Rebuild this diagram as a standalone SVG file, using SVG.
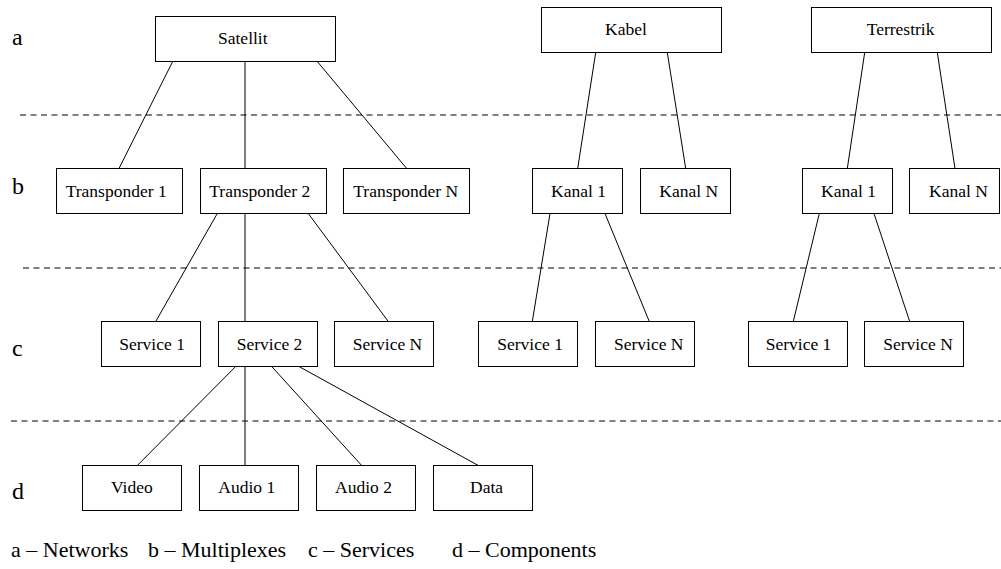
<svg xmlns="http://www.w3.org/2000/svg" width="1001" height="569" viewBox="0 0 1001 569">
  <style>
    .box { fill: #fff; stroke: #000; stroke-width: 1; }
    .lbl { font-family: "Liberation Serif", "Times New Roman", serif; font-size: 17.5px; fill: #000; }
    .row { font-family: "Liberation Serif", "Times New Roman", serif; font-size: 24px; fill: #000; }
    .key { font-family: "Liberation Serif", "Times New Roman", serif; font-size: 22px; fill: #000; }
    .sep { stroke: #000; stroke-width: 1; stroke-dasharray: 6 4.5; fill: none; }
    .edge { stroke: #000; stroke-width: 1; fill: none; }
  </style>

  <!-- layer separators -->
  <g id="separators">
    <line class="sep" x1="20" y1="115" x2="1001" y2="115"/>
    <line class="sep" x1="23" y1="268" x2="1001" y2="268"/>
    <line class="sep" x1="11" y1="421" x2="1001" y2="421"/>
  </g>

  <!-- connectors -->
  <g id="connectors">
    <line class="edge" x1="172.7" y1="61.5" x2="119" y2="168.5"/>
    <line class="edge" x1="245" y1="61.5" x2="245" y2="168.5"/>
    <line class="edge" x1="317.3" y1="61.5" x2="406.7" y2="168.5"/>
    <line class="edge" x1="595.7" y1="52.5" x2="577.7" y2="168.5"/>
    <line class="edge" x1="667.3" y1="52.5" x2="685.7" y2="168.5"/>
    <line class="edge" x1="864.7" y1="52.5" x2="847.3" y2="168.5"/>
    <line class="edge" x1="937.3" y1="52.5" x2="955" y2="168.5"/>
    <line class="edge" x1="217.3" y1="213.5" x2="155.7" y2="321.5"/>
    <line class="edge" x1="245" y1="213.5" x2="245" y2="321.5"/>
    <line class="edge" x1="308.3" y1="213.5" x2="388.3" y2="321.5"/>
    <line class="edge" x1="550" y1="213.5" x2="532.3" y2="321.5"/>
    <line class="edge" x1="605" y1="213.5" x2="649.3" y2="321.5"/>
    <line class="edge" x1="819.3" y1="213.5" x2="793.3" y2="321.5"/>
    <line class="edge" x1="874" y1="213.5" x2="909.7" y2="321.5"/>
    <line class="edge" x1="235.7" y1="366.5" x2="137.3" y2="465.5"/>
    <line class="edge" x1="245" y1="366.5" x2="245" y2="465.5"/>
    <line class="edge" x1="271.7" y1="366.5" x2="361.7" y2="465.5"/>
    <line class="edge" x1="299" y1="366.5" x2="478.3" y2="465.5"/>
  </g>

  <!-- networks -->
  <g id="satellit"><rect class="box" x="155.5" y="16.5" width="180" height="45"/><text class="lbl" x="218" y="43.5">Satellit</text></g>
  <g id="kabel"><rect class="box" x="541.5" y="7.5" width="180" height="45"/><text class="lbl" x="605" y="34.5">Kabel</text></g>
  <g id="terrestrik"><rect class="box" x="811.5" y="7.5" width="180" height="45"/><text class="lbl" x="866.7" y="34.5">Terrestrik</text></g>

  <!-- multiplexes -->
  <g id="transponder-1"><rect class="box" x="56.5" y="168.5" width="126" height="45"/><text class="lbl" x="65.7" y="197">Transponder 1</text></g>
  <g id="transponder-2"><rect class="box" x="200.5" y="168.5" width="126" height="45"/><text class="lbl" x="209.3" y="197">Transponder 2</text></g>
  <g id="transponder-n"><rect class="box" x="343.5" y="168.5" width="126" height="45"/><text class="lbl" x="353.3" y="197">Transponder N</text></g>
  <g id="kabel-kanal-1"><rect class="box" x="532.5" y="168.5" width="90" height="45"/><text class="lbl" x="551" y="197">Kanal 1</text></g>
  <g id="kabel-kanal-n"><rect class="box" x="640.5" y="168.5" width="90" height="45"/><text class="lbl" x="659.3" y="197">Kanal N</text></g>
  <g id="terr-kanal-1"><rect class="box" x="802.5" y="168.5" width="90" height="45"/><text class="lbl" x="821" y="197">Kanal 1</text></g>
  <g id="terr-kanal-n"><rect class="box" x="909.5" y="168.5" width="90" height="45"/><text class="lbl" x="929" y="197">Kanal N</text></g>

  <!-- services -->
  <g id="sat-service-1"><rect class="box" x="101.5" y="321.5" width="99" height="45"/><text class="lbl" x="119.3" y="349.5">Service 1</text></g>
  <g id="sat-service-2"><rect class="box" x="218.5" y="321.5" width="99" height="45"/><text class="lbl" x="236.7" y="349.5">Service 2</text></g>
  <g id="sat-service-n"><rect class="box" x="334.5" y="321.5" width="99" height="45"/><text class="lbl" x="352.7" y="349.5">Service N</text></g>
  <g id="kabel-service-1"><rect class="box" x="478.5" y="321.5" width="99" height="45"/><text class="lbl" x="497.3" y="349.5">Service 1</text></g>
  <g id="kabel-service-n"><rect class="box" x="595.5" y="321.5" width="99" height="45"/><text class="lbl" x="614" y="349.5">Service N</text></g>
  <g id="terr-service-1"><rect class="box" x="748.5" y="321.5" width="99" height="45"/><text class="lbl" x="765.7" y="349.5">Service 1</text></g>
  <g id="terr-service-n"><rect class="box" x="864.5" y="321.5" width="99" height="45"/><text class="lbl" x="883.3" y="349.5">Service N</text></g>

  <!-- components -->
  <g id="video"><rect class="box" x="82.5" y="465.5" width="99" height="45"/><text class="lbl" x="111" y="493">Video</text></g>
  <g id="audio-1"><rect class="box" x="199.5" y="465.5" width="99" height="45"/><text class="lbl" x="218.3" y="493">Audio 1</text></g>
  <g id="audio-2"><rect class="box" x="316.5" y="465.5" width="99" height="45"/><text class="lbl" x="335" y="493">Audio 2</text></g>
  <g id="data"><rect class="box" x="433.5" y="465.5" width="99" height="45"/><text class="lbl" x="470" y="493">Data</text></g>

  <!-- layer letters -->
  <g id="row-labels">
    <text class="row" x="12" y="45">a</text>
    <text class="row" x="12" y="194">b</text>
    <text class="row" x="12" y="356">c</text>
    <text class="row" x="12" y="499">d</text>
  </g>

  <!-- legend -->
  <g id="legend">
    <text class="key" x="11" y="557">a – Networks</text>
    <text class="key" x="148" y="557">b – Multiplexes</text>
    <text class="key" x="308" y="557">c – Services</text>
    <text class="key" x="452" y="557">d – Components</text>
  </g>
</svg>
